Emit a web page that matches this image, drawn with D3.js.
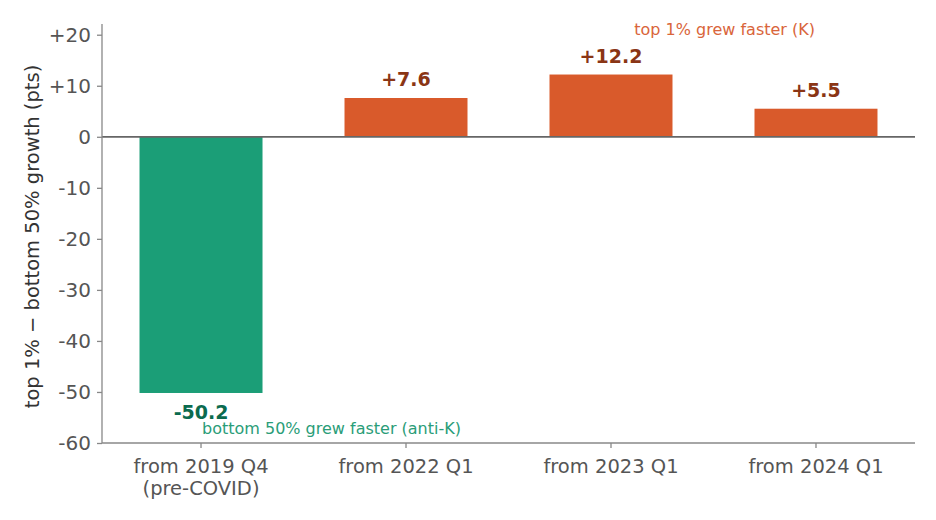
<!DOCTYPE html>
<html>
<head>
<meta charset="utf-8">
<script src="https://cdn.jsdelivr.net/npm/d3@7"></script>
<style>
  body { margin: 0; background: #fff; }
  svg text { font-family: "DejaVu Sans", sans-serif; }
</style>
</head>
<body>
<div id="chart"></div>
<script>
// data
var categories = ["from 2019 Q4\n(pre-COVID)", "from 2022 Q1", "from 2023 Q1", "from 2024 Q1"];
var gaps = [-50.2, 7.6, 12.2, 5.5];
var yTicks = [20, 10, 0, -10, -20, -30, -40, -50, -60];
var yTickLabels = ["+20", "+10", "0", "-10", "-20", "-30", "-40", "-50", "-60"];

var width = 936, height = 520;
var margin = {left: 102, right: 21, top: 24, bottom: 77};

var svg = d3.select("#chart").append("svg")
    .attr("width", width)
    .attr("height", height);

var x = d3.scaleBand()
    .domain(categories)
    .range([margin.left, width - margin.right])
    .paddingInner(0.4)
    .paddingOuter(0.183);

var y = d3.scaleLinear()
    .domain([-60, 22.1])
    .range([height - margin.bottom, margin.top]);

var green = "#1b9e77", orange = "#d95a2b";

// bars
svg.append("g").selectAll("rect")
    .data(gaps)
    .enter().append("rect")
    .attr("x", function (d, i) { return x(categories[i]); })
    .attr("width", x.bandwidth())
    .attr("y", function (d) { return y(Math.max(0, d)); })
    .attr("height", function (d) { return Math.abs(y(d) - y(0)); })
    .attr("fill", function (d) { return d < 0 ? green : orange; });

// zero line
svg.append("line")
    .attr("x1", margin.left).attr("x2", width - margin.right)
    .attr("y1", y(0)).attr("y2", y(0))
    .attr("stroke", "#666").attr("stroke-width", 1.8);

// y axis
var yAxis = svg.append("g")
    .attr("transform", "translate(" + margin.left + ",0)")
    .call(d3.axisLeft(y).tickValues(yTicks)
        .tickFormat(function (d, i) { return yTickLabels[i]; })
        .tickSize(5).tickPadding(6));

// x axis
var xAxis = svg.append("g")
    .attr("transform", "translate(0," + y(-60) + ")")
    .call(d3.axisBottom(x).tickSize(5).tickPadding(8).tickFormat(""));

[yAxis, xAxis].forEach(function (ax) {
    ax.select(".domain").attr("stroke", "#888").attr("stroke-width", 1.3);
    ax.selectAll(".tick line").attr("stroke", "#888").attr("stroke-width", 1.3);
    ax.selectAll("text").attr("fill", "#555").style("font-size", "20px");
});
// y spine full length
yAxis.select(".domain").attr("d", "M0," + y(22.1) + "V" + y(-60));
xAxis.select(".domain").attr("d", "M" + margin.left + ",0H" + (width - margin.right));

xAxis.selectAll(".tick").each(function (d) {
    var t = d3.select(this).append("text")
        .attr("text-anchor", "middle")
        .attr("fill", "#555")
        .style("font-size", "19.5px");
    d.split("\n").forEach(function (line, j) {
        t.append("tspan").attr("x", 0).attr("y", 30 + j * 21.5).text(line);
    });
});

// y label
svg.append("text")
    .attr("transform", "translate(39," + ((y(22.1) + y(-60)) / 2 + 3) + ") rotate(-90)")
    .attr("text-anchor", "middle")
    .attr("fill", "#333")
    .style("font-size", "19.5px")
    .text("top 1% \u2212 bottom 50% growth (pts)");

// value labels
svg.append("g").selectAll("text")
    .data(gaps)
    .enter().append("text")
    .attr("x", function (d, i) { return x(categories[i]) + x.bandwidth() / 2; })
    .attr("y", function (d) { return d < 0 ? y(d) + 26 : y(d) - 12; })
    .attr("text-anchor", "middle")
    .attr("font-weight", "bold")
    .attr("fill", function (d) { return d < 0 ? "#0b6b4f" : "#8a3515"; })
    .style("font-size", "19px")
    .text(function (d) { return (d > 0 ? "+" : "") + d.toFixed(1); });

// annotations
svg.append("text")
    .attr("x", 815).attr("y", 35)
    .attr("text-anchor", "end")
    .attr("fill", "#d9653b")
    .style("font-size", "16px")
    .text("top 1% grew faster (K)");

svg.append("text")
    .attr("x", 202).attr("y", 434)
    .attr("fill", "#2a9d78")
    .style("font-size", "16px")
    .text("bottom 50% grew faster (anti-K)");
</script>
</body>
</html>
